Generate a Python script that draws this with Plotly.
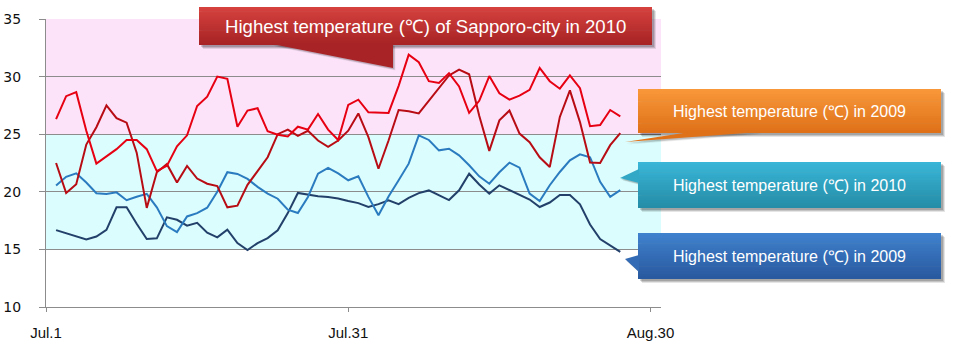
import pandas as pd
import plotly.graph_objects as go

# Daily highest temperatures (deg C), Jul.2 - Aug.27
dates = pd.date_range("2010-07-02", "2010-08-27", freq="D")

temp_red_2010 = [
    26.3, 28.3, 28.65, 25.3, 22.45, 23.1, 23.7, 24.5, 24.5, 23.7,
    21.8, 22.25, 23.95, 24.9, 27.45, 28.25, 30.0, 29.8, 25.65, 27.05,
    27.25, 25.25, 24.95, 24.8, 25.65, 25.4, 26.75, 25.4, 24.5, 27.55,
    28.0, 26.9, 26.9, 26.85, 29.2, 31.9, 31.25, 29.6, 29.45, 30.3,
    29.15, 26.85, 27.9, 30.05, 28.55, 28.0, 28.35, 28.85, 30.75, 29.6,
    28.95, 30.1, 29.0, 25.7, 25.8, 27.1, 26.55,
]
temp_red_2009 = [
    22.5, 19.9, 20.65, 24.1, 25.6, 27.5, 26.4, 26.0, 23.4, 18.6,
    21.7, 22.4, 20.8, 22.25, 21.15, 20.7, 20.5, 18.65, 18.8, 20.6,
    21.8, 23.0, 25.0, 25.4, 24.85, 25.3, 24.45, 23.9, 24.45, 25.3,
    26.8, 24.75, 22.0, 24.45, 27.1, 27.0, 26.8, 27.9, 28.95, 30.1,
    30.6, 30.2, 26.6, 23.55, 26.2, 27.05, 25.05, 24.3, 23.0, 22.15,
    26.5, 28.8, 26.05, 22.55, 22.5, 24.05, 25.1,
]
temp_blue_2010 = [
    20.55, 21.3, 21.6, 20.8, 19.87, 19.8, 19.95, 19.27, 19.57, 19.82,
    18.65, 17.02, 16.5, 17.86, 18.15, 18.62, 20.0, 21.7, 21.55, 21.12,
    20.43, 19.85, 19.4, 18.45, 18.16, 19.55, 21.57, 22.07, 21.6, 21.0,
    21.34, 19.56, 17.97, 19.6, 21.0, 22.44, 24.9, 24.5, 23.6, 23.74,
    23.16, 22.3, 21.34, 20.7, 21.7, 22.53, 22.1, 19.85, 19.2, 20.57,
    21.72, 22.73, 23.25, 23.0, 20.86, 19.56, 20.14,
]
temp_blue_2009 = [
    16.67, 16.42, 16.18, 15.87, 16.12, 16.7, 18.65, 18.65, 17.23, 15.9,
    15.96, 17.78, 17.57, 17.06, 17.3, 16.45, 16.05, 16.72, 15.55, 14.95,
    15.55, 15.98, 16.66, 18.15, 19.9, 19.73, 19.61, 19.55, 19.42, 19.2,
    19.02, 18.68, 18.93, 19.26, 18.93, 19.47, 19.89, 20.12, 19.72, 19.28,
    20.13, 21.57, 20.63, 19.84, 20.56, 20.13, 19.72, 19.33, 18.68, 19.07,
    19.72, 19.72, 18.91, 17.16, 15.9, 15.32, 14.78,
]

tick_dates = ["2010-07-01", "2010-07-31", "2010-08-30"]
tick_labels = ["Jul.1", "Jul.31", "Aug.30"]
y_ticks = [10, 15, 20, 25, 30, 35]

title_text = "Highest temperature (℃) of Sapporo-city in 2010"
label_red_2009 = "Highest temperature (℃) in 2009"
label_blue_2010 = "Highest temperature (℃) in 2010"
label_blue_2009 = "Highest temperature (℃) in 2009"

W, H = 955, 348
ML, MR, MT, MB = 46, 294, 19, 41
PW, PH = W - ML - MR, H - MT - MB


def px(x):
    return (x - ML) / PW


def py(y):
    return (H - MB - y) / PH


fig = go.Figure()

series = [
    (temp_blue_2009, "#22406a"),
    (temp_blue_2010, "#2a7bbf"),
    (temp_red_2009, "#b80c14"),
    (temp_red_2010, "#e60012"),
]
for vals, col in series:
    fig.add_trace(go.Scatter(
        x=dates, y=vals, mode="lines",
        line=dict(color=col, width=2),
        hoverinfo="skip", showlegend=False,
    ))

shapes = []
annotations = []

# temperature bands behind the grid
shapes.append(dict(type="rect", xref="paper", yref="y", x0=0, x1=1, y0=25, y1=35,
                   fillcolor="#fde3fa", line_width=0, layer="below"))
shapes.append(dict(type="rect", xref="paper", yref="y", x0=0, x1=1, y0=15, y1=25,
                   fillcolor="#dbfdfd", line_width=0, layer="below"))


def mix(c1, c2, t):
    return "rgb(%d,%d,%d)" % tuple(round(a + (b - a) * t) for a, b in zip(c1, c2))


def path(points):
    s = "M %f %f" % (px(points[0][0]), py(points[0][1]))
    for x, y in points[1:]:
        s += " L %f %f" % (px(x), py(y))
    return s + " Z"


def callout(x0, y0, x1, y1, top, bottom, pointer, pointer_t, text, size):
    # soft drop shadow
    for off, op in ((4, 0.10), (3, 0.14), (2, 0.16)):
        shapes.append(dict(type="rect", xref="paper", yref="paper",
                           x0=px(x0 + off), x1=px(x1 + off),
                           y0=py(y1 + off), y1=py(y0 + off),
                           fillcolor="rgba(0,0,0,%.2f)" % op, line_width=0, layer="above"))
        shapes.append(dict(type="path", xref="paper", yref="paper",
                           path=path([(x + off * 0.6, y + off * 0.6) for x, y in pointer]),
                           fillcolor="rgba(0,0,0,%.2f)" % (op * 0.7), line_width=0, layer="above"))
    # gradient body
    n = 18
    h = (y1 - y0) / n
    for i in range(n):
        ya = y0 + i * h
        yb = min(y1, ya + h + 0.6)
        shapes.append(dict(type="rect", xref="paper", yref="paper",
                           x0=px(x0), x1=px(x1), y0=py(yb), y1=py(ya),
                           fillcolor=mix(top, bottom, (i + 0.5) / n),
                           line_width=0, layer="above"))
    shapes.append(dict(type="path", xref="paper", yref="paper", path=path(pointer),
                       fillcolor=mix(top, bottom, pointer_t), line_width=0, layer="above"))
    annotations.append(dict(xref="paper", yref="paper",
                            x=px((x0 + x1) / 2), y=py((y0 + y1) / 2),
                            xanchor="center", yanchor="middle", showarrow=False,
                            text=text,
                            font=dict(family="Liberation Sans, Arial", size=size, color="#ffffff")))


callout(199, 7, 652, 45, (214, 66, 62), (166, 34, 36),
        [(272, 44), (393, 44), (393, 68)], 0.98, title_text, 18.6)
callout(638, 89, 941, 133, (249, 152, 58), (222, 112, 24),
        [(690, 132), (760, 132), (625, 142)], 0.98, label_red_2009, 16)
callout(638, 162, 941, 208, (58, 182, 216), (36, 140, 166),
        [(639, 169), (639, 183), (620, 178)], 0.35, label_blue_2010, 16)
callout(638, 233, 941, 279, (64, 130, 206), (40, 88, 158),
        [(639, 255), (639, 272), (625, 259)], 0.55, label_blue_2009, 16)

axis_col = "#8c8c8c"
fig.update_layout(
    width=W, height=H, autosize=False,
    margin=dict(l=ML, r=MR, t=MT, b=MB, pad=0, autoexpand=False),
    paper_bgcolor="#ffffff", plot_bgcolor="#ffffff",
    shapes=shapes, annotations=annotations,
    xaxis=dict(
        type="date", range=["2010-07-01", "2010-08-31 01:00"],
        tickvals=tick_dates, ticktext=tick_labels,
        showgrid=False, zeroline=False, automargin=False,
        showline=True, linecolor=axis_col, linewidth=1,
        ticks="outside", ticklen=4, tickcolor=axis_col,
        ticklabelstandoff=8,
        tickfont=dict(family="Liberation Sans, Arial", size=15, color="#111111"),
        fixedrange=True,
    ),
    yaxis=dict(
        range=[10, 35], tickvals=y_ticks,
        showgrid=True, gridcolor=axis_col, gridwidth=1, zeroline=False,
        automargin=False,
        showline=True, linecolor=axis_col, linewidth=1,
        ticks="outside", ticklen=6, tickcolor=axis_col,
        ticklabelstandoff=15,
        tickfont=dict(family="DejaVu Sans", size=14, color="#111111"),
        fixedrange=True,
    ),
)

fig.write_html("out.html", config={"displayModeBar": False})
